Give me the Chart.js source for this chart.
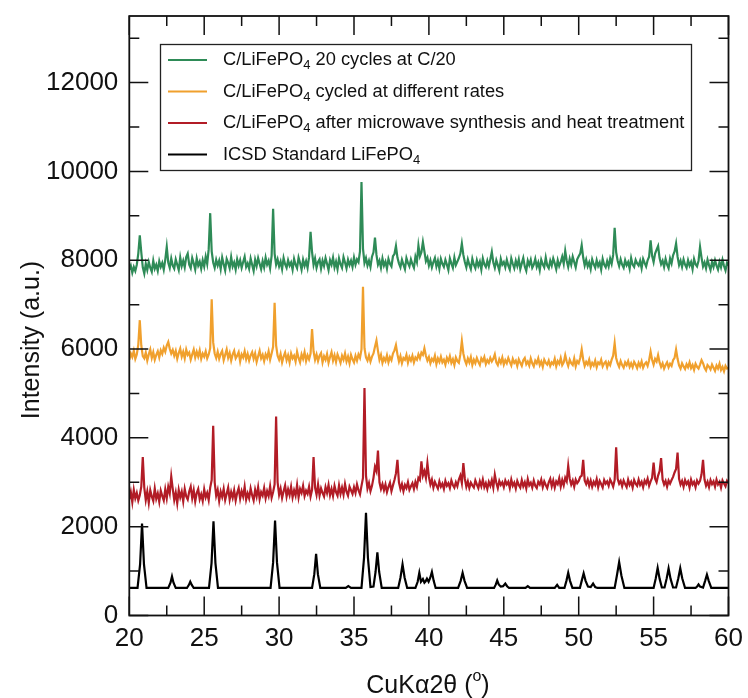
<!DOCTYPE html>
<html>
<head>
<meta charset="utf-8">
<script src="https://cdn.jsdelivr.net/npm/chart.js@4.4.1/dist/chart.umd.min.js"></script>
<style>
  html, body { margin: 0; padding: 0; background: #fff; }
  #wrap { width: 748px; height: 698px; }
</style>
</head>
<body>
<div id="wrap"><canvas id="xrd" width="748" height="698"></canvas></div>
<script>
// XRD scans, 2θ from 20° to 60° in 0.1° steps (one row per degree)
const scanStart = 20;
const scanStep = 0.1;

const cycledC20 = [
  7790, 7880, 7720, 7850, 7760, 7900, 8150, 8560, 8180, 7840,
  7700, 7920, 7780, 7960, 7830, 7740, 7990, 7810, 7900, 7760,
  7980, 7850, 7940, 7790, 8010, 8300, 7950, 7830, 8040, 7880,
  7810, 8020, 7900, 7780, 8060, 7870, 7990, 7840, 8070, 8150,
  7900, 7820, 8050, 7930, 7790, 8040, 7880, 7970, 7810, 8000,
  7860, 8080, 7920, 8250, 9060, 8200, 7950, 7830, 8010, 7880,
  7990, 7800, 8060, 7910, 7770, 8030, 7940, 7820, 8070, 7860,
  7950, 7790, 8020, 7880, 8000, 7830, 7960, 8080, 7850, 7930,
  7810, 8040, 7900, 7760, 8010, 7870, 8050, 7920, 7800, 7980,
  7840, 8060, 7900, 7990, 7820, 8100, 9160, 8150, 7900, 8020,
  7860, 7970, 7800, 8050, 7910, 7830, 8000, 7880, 7950, 7790,
  8030, 7900, 7820, 8060, 7940, 7790, 8010, 7870, 7980, 7830,
  8070, 8640, 8180, 7900, 8040, 7830, 7960, 8020, 7810, 7990,
  7870, 8050, 7920, 7780, 8000, 7900, 8060, 7840, 7970, 7800,
  8040, 7910, 7830, 8070, 7950, 7820, 8010, 7890, 7990, 7850,
  8060, 7900, 8020, 7960, 8200, 9760, 8260, 7940, 8050, 7880,
  7990, 7850, 8080, 8180, 8510, 8120, 7900, 7990, 7830, 8040,
  7880, 7970, 7810, 8030, 7920, 7860, 8090, 8140, 8320, 8060,
  7930, 7840, 8010, 7900, 7800, 8050, 7940, 7860, 8020, 7910,
  7830, 8080, 7960, 8330, 8090, 8180, 8410, 8200, 7980, 8060,
  7880, 8000, 7840, 7960, 8050, 7860, 7990, 7810, 8030, 7920,
  7850, 8010, 7900, 7780, 8040, 7930, 7830, 8060, 7890, 7970,
  8050, 8150, 8375, 8120, 7960, 7840, 8020, 7900, 7800, 8030,
  7900, 7820, 8000, 7870, 7970, 7790, 8040, 7910, 7850, 7990,
  7860, 8020, 8190, 7950, 7830, 8000, 7890, 7770, 8030, 7900,
  7960, 7840, 8010, 7880, 7790, 8040, 7920, 7820, 7990, 7870,
  8020, 7800, 7930, 8050, 7860, 7760, 7990, 7890, 8010, 7830,
  7900, 8030, 7850, 7950, 7780, 8010, 7910, 7840, 8060, 7880,
  7820, 7990, 7880, 8040, 7930, 7800, 8000, 7870, 7960, 8080,
  7920, 8210, 7990, 7850, 8030, 7900, 8080, 7960, 7840, 8020,
  8090, 8150, 8340, 8060, 7880, 8010, 7860, 7950, 7800, 8020,
  7910, 7830, 8000, 7870, 7950, 7790, 8030, 7900, 7840, 7980,
  7860, 8040, 7920, 8120, 8730, 8180, 7990, 7870, 8020, 7900,
  7830, 8000, 7890, 7960, 7810, 8050, 7900, 7850, 8010, 7930,
  7880, 7990, 7820, 8030, 7940, 7860, 8000, 8080, 8450, 8100,
  7960, 8150, 8240, 8320, 8050, 7910, 7990, 7850, 8030, 7900,
  7820, 8040, 7930, 8110, 8200, 8375, 8080, 7890, 7990, 7850,
  8020, 7900, 7830, 8000, 7880, 7960, 7800, 8030, 7910, 7860,
  7990, 8300, 8060, 7860, 7950, 7820, 8010, 7890, 7780, 7960,
  7850, 8000, 7880, 7790, 7960, 7840, 8010, 7870, 7770, 7940,
  7880
];

const cycledRates = [
  5760, 5900, 5820, 5960, 5780, 5880, 6100, 6650, 6080, 5840,
  5790, 5920, 5740, 5880, 5990, 5800, 5930, 5760, 5870, 5950,
  5810, 5970, 5890, 6030, 5940, 6080, 6160, 6010, 5900, 5980,
  5850, 5960, 5780, 5910, 6010, 5830, 5940, 5790, 5990, 5870,
  5920, 5760, 5880, 5990, 5810, 5940, 5830, 5970, 5780, 5900,
  5830, 5950, 5790, 5880, 6020, 7120, 6150, 5900, 5800, 5940,
  5780, 5890, 5960, 5750, 5870, 5990, 5800, 5910, 5740, 5880,
  5960, 5790, 5850, 5930, 5720, 5880, 5810, 5950, 5770, 5890,
  5740, 5860, 5930, 5780, 5900, 5710, 5840, 5960, 5790, 5870,
  5730, 5880, 5800, 5950, 5760, 5900, 6050, 7040, 6080, 5850,
  5760, 5890, 5700, 5830, 5920, 5750, 5860, 5700, 5900, 5790,
  5850, 5720, 5940, 5800, 5700, 5880, 5780, 5930, 5730, 5860,
  5770, 5900, 6450, 5950, 5760, 5880, 5730, 5850, 5910, 5700,
  5840, 5760, 5890, 5690, 5820, 5930, 5740, 5860, 5710, 5880,
  5790, 5690, 5850, 5760, 5900, 5720, 5830, 5680, 5870, 5770,
  5700, 5850, 5740, 5880, 5800, 5990, 7400, 6020, 5810, 5740,
  5860, 5720, 5830, 5900, 6050, 6190, 5960, 5760, 5870, 5690,
  5800, 5730, 5860, 5700, 5820, 5750, 5900, 5970, 6090, 5880,
  5720, 5840, 5680, 5800, 5760, 5870, 5690, 5820, 5740, 5850,
  5700, 5810, 5760, 5880, 5790, 5920, 5870, 6015, 5850, 5740,
  5820, 5680, 5780, 5730, 5850, 5660, 5790, 5710, 5830, 5700,
  5760, 5650, 5800, 5720, 5840, 5690, 5770, 5640, 5810, 5730,
  5690, 5880, 6180, 5900, 5750, 5660, 5790, 5700, 5820, 5640,
  5760, 5680, 5800, 5710, 5640, 5790, 5730, 5820, 5660, 5750,
  5690, 5800, 5720, 5780, 5880, 5700, 5640, 5770, 5690, 5810,
  5650, 5750, 5680, 5800, 5710, 5630, 5780, 5690, 5740, 5620,
  5770, 5690, 5620, 5750, 5800, 5660, 5720, 5630, 5790, 5680,
  5610, 5740, 5680, 5790, 5640, 5720, 5600, 5760, 5690, 5650,
  5740, 5620, 5700, 5660, 5780, 5610, 5730, 5670, 5800, 5640,
  5700, 5865, 5720, 5620, 5760, 5680, 5640, 5790, 5610, 5730,
  5680, 5800, 5990, 5760, 5620, 5710, 5650, 5760, 5600, 5690,
  5630, 5740, 5590, 5700, 5660, 5760, 5610, 5680, 5720, 5590,
  5700, 5640, 5760, 5850, 6130, 5800, 5680, 5600, 5730, 5640,
  5580, 5700, 5640, 5730, 5600, 5680, 5590, 5710, 5650, 5570,
  5690, 5610, 5720, 5580, 5660, 5700, 5620, 5750, 5940, 5760,
  5650, 5780, 5720, 5865, 5700, 5600, 5680, 5560, 5640, 5700,
  5590, 5670, 5620, 5750, 5800, 5990, 5780, 5630, 5560, 5680,
  5610, 5550, 5660, 5590, 5700, 5570, 5640, 5530, 5670, 5600,
  5560, 5650, 5750, 5680, 5580, 5520, 5640, 5600, 5540, 5650,
  5580, 5510, 5630, 5560, 5670, 5530, 5600, 5500, 5620, 5560,
  5580
];

const microwaveHT = [
  2620, 2780, 2550, 2830, 2640, 2760, 2590, 2710, 2900, 3570,
  2880, 2600, 2790, 2540, 2820, 2680, 2580, 2860, 2630, 2750,
  2560, 2810, 2690, 2590, 2840, 2640, 2900, 2750, 3130, 2850,
  2600, 2770, 2530, 2830, 2660, 2790, 2570, 2850, 2680, 2610,
  2790, 2900, 2640, 2820, 2570, 2760, 2850, 2620, 2730, 2580,
  2840, 2660, 2760, 2600, 2880, 3050, 4270, 3000, 2700, 2830,
  2580, 2790, 2670, 2850, 2600, 2740, 2880, 2610, 2780, 2650,
  2820, 2590, 2760, 2870, 2630, 2800, 2680, 2900, 2610, 2750,
  2640, 2860, 2710, 2590, 2830, 2680, 2890, 2620, 2780, 2700,
  2870, 2640, 2800, 2690, 2910, 2650, 2780, 2950, 4480, 3000,
  2720, 2860, 2650, 2800, 2930, 2680, 2840, 2710, 2900, 2660,
  2820, 2700, 2940, 2660, 2850, 2760, 2920, 2690, 2810, 2740,
  2900, 2680, 2830, 3570, 2880, 2720, 2950, 2700, 2860, 2760,
  2680, 2890, 2760, 2940, 2710, 2850, 2690, 2920, 2780, 2700,
  2930, 2740, 2880, 2720, 2960, 2790, 2700, 2900, 2820, 2740,
  2890, 2760, 2950, 2820, 2730, 2920, 3100, 5120, 3150, 2860,
  2980, 2800, 2920, 3100, 3350, 3250, 3715, 3000, 2850, 2960,
  2820, 2950, 2780, 2900, 2990, 2800, 2930, 3050, 3200, 3505,
  3000, 2850, 2960, 2800, 2940, 2870, 3000, 2830, 2910, 2980,
  2850, 3010, 2900, 3100, 3050, 3470, 3150, 3250, 3100, 3430,
  3120, 2950, 3060, 2880, 3010, 2930, 2860, 3020, 2900, 2970,
  2850, 3030, 2920, 2980, 2870, 3040, 2940, 2880, 3000, 2910,
  3060, 3150, 2980, 3430, 3080, 2900, 3020, 2870, 2990, 2930,
  2880, 3040, 2950, 2870, 3020, 2910, 3060, 2890, 2980, 2850,
  3010, 2920, 3050, 2880, 3170, 2990, 2870, 3030, 2940, 3000,
  2890, 3040, 2950, 3010, 2870, 3060, 2920, 2990, 2860, 3030,
  2940, 2880, 3050, 2910, 3000, 2860, 3070, 2930, 2990, 2880,
  3040, 2920, 2870, 3010, 2950, 3060, 2890, 3020, 2940, 2870,
  3000, 3080, 2910, 3040, 2880, 3020, 2960, 3090, 2900, 3050,
  2930, 3100, 3020, 3370, 3080, 2950, 3040, 2900, 3060, 2980,
  3030, 3120, 3150, 3505, 3040, 2960, 3060, 2920, 3040, 2900,
  3010, 2940, 3070, 2890, 3030, 2960, 2880, 3050, 2970, 3020,
  2920, 3060, 2990, 2900, 3050, 3790, 3080, 2970, 3030, 2910,
  3040, 2960, 2890, 3060, 2940, 3010, 2880, 3050, 2970, 2920,
  3060, 2940, 3010, 2890, 3040, 2970, 3080, 2920, 3020, 3100,
  3445, 3080, 3000, 3150, 3250, 3545, 3060, 2950, 3030, 2900,
  3040, 2970, 3050, 3120, 3220, 3300, 3670, 3080, 2950, 3030,
  2900, 3050, 2960, 3020, 2880, 3060, 2950, 3010, 2890, 3040,
  2970, 3030, 3180, 3505, 3060, 2920, 3010, 2890, 3050, 2960,
  3020, 2900, 3060, 2950, 3010, 2880, 3040, 2970, 2910, 3030,
  2980
];

// reference pattern, [2θ, intensity] pairs
const icsdStandard = [
  [20.0, 620], [20.55, 620], [20.72, 1150], [20.85, 2070], [20.98, 1150], [21.15, 620],
  [22.6, 620], [22.75, 740], [22.85, 880], [22.95, 740], [23.1, 620],
  [23.85, 620], [23.98, 690], [24.07, 760], [24.17, 690], [24.3, 620],
  [25.32, 620], [25.49, 1180], [25.62, 2120], [25.75, 1180], [25.92, 620],
  [29.43, 620], [29.6, 1190], [29.73, 2140], [29.86, 1190], [30.03, 620],
  [32.2, 620], [32.35, 930], [32.47, 1390], [32.59, 930], [32.75, 620],
  [34.45, 620], [34.62, 660], [34.8, 620],
  [35.5, 620], [35.67, 1300], [35.8, 2310], [35.93, 1300], [36.1, 640],
  [36.3, 650], [36.44, 980], [36.56, 1420], [36.68, 980], [36.85, 620],
  [37.95, 620], [38.1, 850], [38.24, 1150], [38.38, 850], [38.55, 620],
  [39.1, 620], [39.25, 760], [39.36, 960], [39.47, 760], [39.6, 820], [39.7, 740],
  [39.78, 770], [39.87, 830], [39.98, 760], [40.08, 840], [40.2, 980], [40.32, 780], [40.45, 620],
  [41.95, 620], [42.12, 780], [42.25, 960], [42.38, 780], [42.55, 620],
  [44.35, 620], [44.47, 700], [44.56, 790], [44.66, 700], [44.8, 650], [44.95, 660],
  [45.1, 720], [45.22, 660], [45.35, 620],
  [46.45, 620], [46.6, 660], [46.75, 620],
  [48.4, 620], [48.56, 690], [48.7, 620],
  [49.05, 620], [49.18, 780], [49.3, 960], [49.42, 780], [49.58, 620],
  [50.08, 620], [50.2, 780], [50.33, 950], [50.46, 780], [50.62, 650], [50.8, 640],
  [50.96, 720], [51.1, 640], [51.25, 620],
  [52.4, 620], [52.55, 900], [52.7, 1200], [52.85, 900], [53.05, 620],
  [55.0, 620], [55.14, 830], [55.27, 1070], [55.4, 830], [55.55, 630],
  [55.73, 630], [55.87, 830], [56.0, 1060], [56.13, 830], [56.3, 630],
  [56.5, 630], [56.65, 840], [56.78, 1065], [56.91, 840], [57.1, 620],
  [57.8, 620], [57.92, 660], [58.0, 700], [58.1, 650], [58.3, 630],
  [58.44, 780], [58.56, 920], [58.68, 780], [58.85, 620],
  [60.0, 620]
];

const seriesLabels = [
  'C/LiFePO₄ 20 cycles at C/20',
  'C/LiFePO₄ cycled at different rates',
  'C/LiFePO₄ after microwave synthesis and heat treatment',
  'ICSD Standard LiFePO₄'
];

const xMajor = [20, 25, 30, 35, 40, 45, 50, 55, 60];
const xMinor = [22.5, 27.5, 32.5, 37.5, 42.5, 47.5, 52.5, 57.5];
const yMajor = [0, 2000, 4000, 6000, 8000, 10000, 12000];
const yMinor = [1000, 3000, 5000, 7000, 9000, 11000, 13000];

const FONT = 'Liberation Sans, Arial, Helvetica, sans-serif';

const toPoints = vals => vals.map((v, i) => ({ x: scanStart + i * scanStep, y: v }));

function scanSet(label, vals, color) {
  return {
    label, data: toPoints(vals), borderColor: color, backgroundColor: color,
    borderWidth: 2.2, pointRadius: 0, tension: 0, fill: false
  };
}

// frame with inward ticks on all four sides
const frameTicks = {
  id: 'frameTicks',
  afterDatasetsDraw(chart) {
    const { ctx, chartArea: a, scales: { x, y } } = chart;
    ctx.save();
    ctx.strokeStyle = '#111';
    ctx.lineWidth = 1.5;
    ctx.beginPath();
    const xt = (v, len) => {
      const px = x.getPixelForValue(v);
      ctx.moveTo(px, a.bottom); ctx.lineTo(px, a.bottom - len);
      ctx.moveTo(px, a.top); ctx.lineTo(px, a.top + len);
    };
    const yt = (v, len) => {
      const py = y.getPixelForValue(v);
      ctx.moveTo(a.left, py); ctx.lineTo(a.left + len, py);
      ctx.moveTo(a.right, py); ctx.lineTo(a.right - len, py);
    };
    xMajor.forEach(v => xt(v, 19));
    xMinor.forEach(v => xt(v, 10));
    yMajor.forEach(v => yt(v, 19));
    yMinor.forEach(v => yt(v, 10));
    ctx.stroke();
    ctx.lineWidth = 1.8;
    ctx.strokeRect(a.left, a.top, a.right - a.left, a.bottom - a.top);
    ctx.restore();
  }
};

// draws text, turning "₄" into a lowered small 4
function subText(ctx, text, x, y, size) {
  const parts = text.split('₄');
  parts.forEach((p, i) => {
    ctx.font = size + 'px ' + FONT;
    ctx.fillText(p, x, y);
    x += ctx.measureText(p).width;
    if (i < parts.length - 1) {
      ctx.font = Math.round(size * 0.7) + 'px ' + FONT;
      ctx.fillText('4', x, y + size * 0.32);
      x += ctx.measureText('4').width;
    }
  });
}

const boxLegend = {
  id: 'boxLegend',
  afterDraw(chart) {
    const { ctx } = chart;
    const left = 160.5, top = 44.5, right = 691.5, bottom = 170.5;
    ctx.save();
    ctx.fillStyle = '#fff';
    ctx.fillRect(left, top, right - left, bottom - top);
    ctx.strokeStyle = '#222';
    ctx.lineWidth = 1.3;
    ctx.strokeRect(left, top, right - left, bottom - top);
    ctx.textBaseline = 'middle';
    chart.data.datasets.forEach((ds, i) => {
      const rowY = 60 + i * 31.5;
      ctx.strokeStyle = ds.borderColor;
      ctx.lineWidth = 2;
      ctx.beginPath();
      ctx.moveTo(168, rowY); ctx.lineTo(207, rowY);
      ctx.stroke();
      ctx.fillStyle = '#111';
      subText(ctx, ds.label, 223, rowY, 18.3);
    });
    ctx.restore();
  }
};

const axisTitles = {
  id: 'axisTitles',
  afterDraw(chart) {
    const { ctx } = chart;
    ctx.save();
    ctx.fillStyle = '#111';
    ctx.textBaseline = 'alphabetic';
    // y title
    ctx.font = '25px ' + FONT;
    ctx.translate(39, 340);
    ctx.rotate(-Math.PI / 2);
    ctx.textAlign = 'center';
    ctx.fillText('Intensity (a.u.)', 0, 0);
    ctx.setTransform(1, 0, 0, 1, 0, 0);
    // x title with superscript degree mark
    ctx.textAlign = 'left';
    const main = 'CuKα2θ (', sup = 'o', end = ')';
    ctx.font = '25px ' + FONT;
    const w1 = ctx.measureText(main).width, w3 = ctx.measureText(end).width;
    ctx.font = '16px ' + FONT;
    const w2 = ctx.measureText(sup).width;
    let x0 = 428 - (w1 + w2 + w3) / 2;
    const base = 693;
    ctx.font = '25px ' + FONT;
    ctx.fillText(main, x0, base);
    ctx.font = '16px ' + FONT;
    ctx.fillText(sup, x0 + w1, base - 12);
    ctx.font = '25px ' + FONT;
    ctx.fillText(end, x0 + w1 + w2, base);
    ctx.restore();
  }
};

new Chart(document.getElementById('xrd'), {
  type: 'line',
  data: {
    datasets: [
      scanSet(seriesLabels[0], cycledC20, 'rgb(46,139,87)'),
      scanSet(seriesLabels[1], cycledRates, 'rgb(240,160,45)'),
      scanSet(seriesLabels[2], microwaveHT, 'rgb(178,28,38)'),
      {
        label: seriesLabels[3],
        data: icsdStandard.map(p => ({ x: p[0], y: p[1] })),
        borderColor: '#000', backgroundColor: '#000',
        borderWidth: 2.2, pointRadius: 0, tension: 0, fill: false
      }
    ]
  },
  options: {
    responsive: false,
    animation: false,
    layout: { padding: { top: 16, right: 19.5, left: 0, bottom: 0 } },
    plugins: { legend: { display: false }, tooltip: { enabled: false } },
    scales: {
      x: {
        type: 'linear', min: 20, max: 60,
        grid: { display: false, drawTicks: false },
        border: { display: false },
        afterBuildTicks: s => { s.ticks = xMajor.map(v => ({ value: v })); },
        afterFit: s => { s.height = 82.5; s.paddingLeft = 0; s.paddingRight = 0; },
        ticks: {
          font: { family: FONT, size: 26 }, color: '#111',
          padding: 8, maxRotation: 0, autoSkip: false,
          callback: v => String(v)
        }
      },
      y: {
        min: 0, max: 13500,
        grid: { display: false, drawTicks: false },
        border: { display: false },
        afterBuildTicks: s => { s.ticks = yMajor.map(v => ({ value: v })); },
        afterFit: s => { s.width = 129.3; s.paddingTop = 0; s.paddingBottom = 0; },
        ticks: {
          font: { family: FONT, size: 26 }, color: '#111',
          padding: 11, autoSkip: false,
          callback: v => String(v)
        }
      }
    }
  },
  plugins: [frameTicks, boxLegend, axisTitles]
});
</script>
</body>
</html>
